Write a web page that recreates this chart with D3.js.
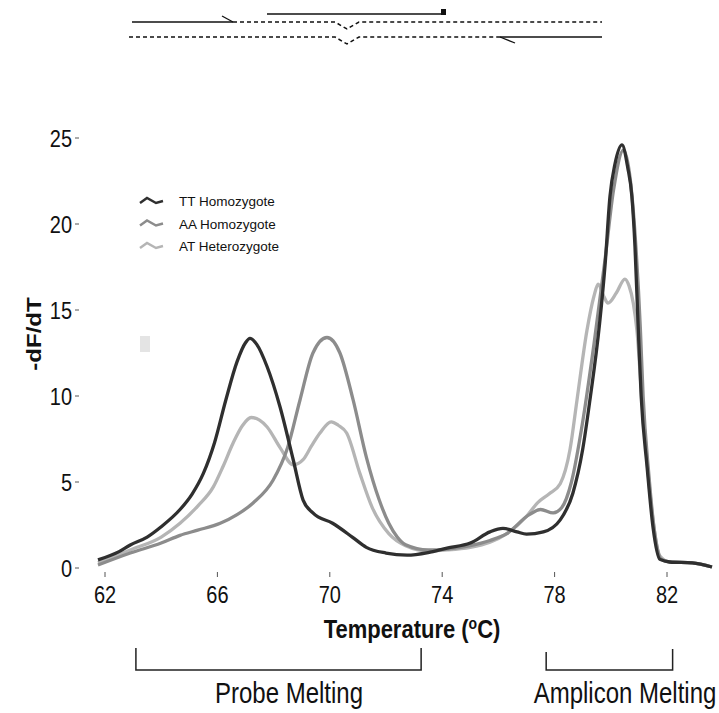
<!DOCTYPE html>
<html><head><meta charset="utf-8">
<script src="https://cdn.jsdelivr.net/npm/d3@7"></script>
<style>body{margin:0;background:#fff}svg{display:block}text{font-family:Arial,"Liberation Sans",sans-serif;fill:#111}</style>
</head><body><svg id="c" width="719" height="713"></svg>
<script>
// ---------- data ----------
const seriesNames = ["TT Homozygote", "AA Homozygote", "AT Heterozygote"];
const ttTemp = [61.75,62.5,62.9,63.5,64.0,64.67,65.1,65.5,65.9,66.3,66.7,67.0,67.16,67.4,67.77,68.23,68.7,69.05,69.4,70.1,70.8,71.3,72.0,72.75,73.5,74.17,75.0,75.7,76.16,76.66,77.0,77.6,78.2,78.65,79.0,79.26,79.6,79.8,79.97,80.15,80.4,80.6,80.75,80.86,80.97,81.08,81.29,81.5,81.75,82.1,82.9,83.6];
const ttVal  = [0.47,0.95,1.34,1.8,2.4,3.4,4.3,5.5,7.3,9.77,12.0,13.1,13.35,13.0,11.7,9.36,6.28,3.95,3.2,2.6,1.8,1.2,0.87,0.75,0.9,1.16,1.45,2.1,2.3,2.1,1.97,2.1,2.8,4.35,6.9,9.8,14.2,17.7,21.6,23.5,24.6,23.3,21.6,18.7,14.2,10.0,5.9,2.4,0.5,0.35,0.3,0.06];
const aaTemp = [61.75,62.9,64.0,64.67,65.3,66.1,66.7,67.27,67.98,68.5,68.94,69.4,69.9,70.36,70.83,71.3,71.76,72.1,72.4,72.7,73.5,74.2,75.0,75.7,76.3,77.1,77.5,77.95,78.25,78.6,79.0,79.4,79.8,80.1,80.45,80.7,80.9,81.05,81.15,81.35,81.55,81.8,82.1,82.9,83.6];
const aaVal  = [0.17,0.87,1.45,1.9,2.2,2.6,3.1,3.78,5.1,7.0,9.77,12.5,13.4,12.5,9.77,6.45,3.95,2.6,1.8,1.35,1.05,1.1,1.3,1.6,2.0,3.1,3.4,3.2,3.5,5.0,8.5,13.0,18.0,22.0,24.3,22.5,18.5,14.0,10.0,5.5,2.2,0.5,0.35,0.3,0.06];
const atTemp = [61.75,62.9,64.0,64.67,65.3,65.85,66.2,66.56,66.9,67.2,67.5,67.77,68.23,68.7,69.05,69.35,69.65,70.05,70.3,70.6,71.07,71.5,72.1,72.7,73.5,74.2,75.0,75.7,76.3,77.0,77.4,77.8,78.2,78.55,78.8,79.15,79.4,79.55,79.75,79.9,80.2,80.5,80.65,80.8,80.93,81.1,81.3,81.5,81.75,82.1,82.9,83.6];
const atVal  = [0.3,1.05,1.8,2.6,3.6,4.7,5.9,7.27,8.3,8.75,8.6,8.2,7.0,6.0,6.3,7.1,7.85,8.5,8.3,7.85,5.5,3.55,2.0,1.3,1.0,1.05,1.2,1.5,2.0,3.0,3.8,4.3,4.9,6.9,9.8,13.8,15.8,16.5,15.8,15.4,16.0,16.8,16.4,15.4,13.8,10.0,6.0,2.8,0.7,0.35,0.3,0.06];
const xTicks = [62, 66, 70, 74, 78, 82];
const yTicks = [0, 5, 10, 15, 20, 25];
const regionNames = ["Probe Melting", "Amplicon Melting"];
const regionStart = [63.1, 77.7];
const regionEnd = [73.25, 82.2];

// ---------- drawing ----------
const svg = d3.select("#c");
const colors = ["#2f2f2f", "#8c8c8c", "#b5b5b5"];
const x = d3.scaleLinear().domain([62, 82]).range([105, 667]);
const y = d3.scaleLinear().domain([0, 25]).range([568, 138]);
const SY = 1.2;

function txt(px, py, s, size, anchor, weight) {
  return svg.append("text")
    .attr("transform", `translate(${px},${py}) scale(1,${SY})`)
    .attr("text-anchor", anchor || "start")
    .style("font-size", size + "px")
    .style("font-weight", weight || "normal")
    .text(s);
}

// top schematic
const schem = svg.append("g").attr("stroke", "#111").attr("fill", "none");
schem.append("line").attr("x1", 132).attr("x2", 233).attr("y1", 22).attr("y2", 22).attr("stroke-width", 1.5);
schem.append("line").attr("x1", 222).attr("x2", 233).attr("y1", 16).attr("y2", 22).attr("stroke-width", 1.3);
schem.append("path").attr("d", "M233,22 H335 L347,29 L359,22 H602").attr("stroke-dasharray", "4,3").attr("stroke-width", 1.5);
schem.append("line").attr("x1", 267).attr("x2", 445).attr("y1", 14).attr("y2", 14).attr("stroke-width", 1.5);
svg.append("rect").attr("x", 441).attr("y", 9).attr("width", 5).attr("height", 6).attr("fill", "#111");
schem.append("path").attr("d", "M129,37 H335 L347,44 L359,37 H500").attr("stroke-dasharray", "4,3").attr("stroke-width", 1.5);
schem.append("line").attr("x1", 500).attr("x2", 602).attr("y1", 37).attr("y2", 37).attr("stroke-width", 1.5);
schem.append("line").attr("x1", 500).attr("x2", 515).attr("y1", 37).attr("y2", 43).attr("stroke-width", 1.3);

// small grey artefact box
svg.append("rect").attr("x", 140).attr("y", 336).attr("width", 10).attr("height", 16).attr("fill", "#e4e4e4");

// y ticks
yTicks.forEach(v => {
  txt(72, y(v) + 8.5, String(v), 20, "end");
  svg.append("line").attr("x1", 75).attr("x2", 79).attr("y1", y(v)).attr("y2", y(v)).attr("stroke", "#555").attr("stroke-width", 1);
});
// x ticks
xTicks.forEach(v => {
  svg.append("line").attr("x1", x(v)).attr("x2", x(v)).attr("y1", 572).attr("y2", 577).attr("stroke", "#555").attr("stroke-width", 1);
  txt(x(v), 603, String(v), 20, "middle");
});

// axis titles
svg.append("text").attr("transform", `translate(41,334) rotate(-90) scale(${SY},1)`)
  .attr("text-anchor", "middle").style("font-size", "20px").style("font-weight", "bold").text("-dF/dT");
const xl = svg.append("text").attr("transform", `translate(412,638) scale(1,1.15)`)
  .attr("text-anchor", "middle").style("font-size", "22px").style("font-weight", "bold");
xl.append("tspan").text("Temperature (");
xl.append("tspan").attr("dy", -8).style("font-size", "14px").text("o");
xl.append("tspan").attr("dy", 8).text("C)");

// curves
const series = [
  {name: seriesNames[0], t: ttTemp, v: ttVal, c: colors[0]},
  {name: seriesNames[1], t: aaTemp, v: aaVal, c: colors[1]},
  {name: seriesNames[2], t: atTemp, v: atVal, c: colors[2]}
];
const line = d3.line().x(d => x(d[0])).y(d => y(d[1])).curve(d3.curveMonotoneX);
[2, 1, 0].forEach(i => {
  const s = series[i];
  svg.append("path").datum(s.t.map((t, k) => [t, s.v[k]]))
    .attr("d", line).attr("fill", "none").attr("stroke", s.c).attr("stroke-width", 3.3).attr("stroke-linejoin", "round");
});

// legend
series.forEach((s, i) => {
  const ly = 201 + i * 22.5;
  svg.append("path").attr("d", `M140,${ly + 2} L147,${ly - 3} L156,${ly + 2} L163,${ly}`)
    .attr("fill", "none").attr("stroke", s.c).attr("stroke-width", 2.5);
  svg.append("text").attr("x", 179).attr("y", ly + 5).style("font-size", "13.5px").text(s.name);
});

// region brackets
regionNames.forEach((n, i) => {
  const a = x(regionStart[i]), b = x(regionEnd[i]);
  const t0 = i === 0 ? 648 : 652;
  svg.append("path").attr("d", `M${a},${t0} V670 H${b} V${t0 - (i === 0 ? 0 : 3)}`)
    .attr("fill", "none").attr("stroke", "#222").attr("stroke-width", 1.5);
  txt(i === 0 ? 289 : 625, 703, n, 24, "middle");
});
</script></body></html>
